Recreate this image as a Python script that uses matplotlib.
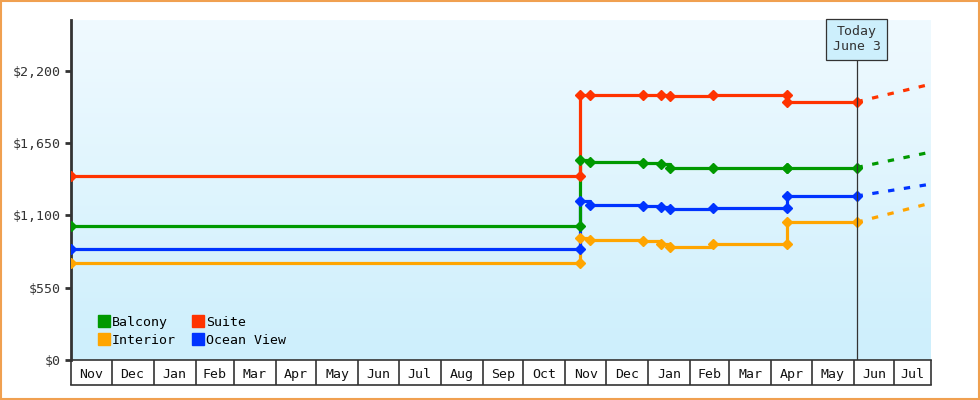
import numpy as np
import matplotlib.pyplot as plt
import matplotlib.dates as mdates
import pandas as pd

plt.rcParams['font.family'] = ['DejaVu Sans Mono']

# Price history (steps)
dates = pd.to_datetime(['2022-11-01', '2023-11-12', '2023-11-12', '2023-11-19', '2023-12-28',
                        '2024-01-11', '2024-01-17', '2024-02-18', '2024-04-13', '2024-04-13', '2024-06-03'])
suite = [1400, 1400, 2015, 2015, 2015, 2015, 2010, 2015, 2015, 1965, 1965]
balcony = [1020, 1020, 1522, 1507, 1500, 1492, 1461, 1465, 1465, 1465, 1465]
ocean = [845, 845, 1212, 1180, 1175, 1167, 1150, 1157, 1157, 1248, 1248]
interior = [738, 738, 928, 913, 906, 886, 862, 883, 883, 1048, 1048]

# Projection (dashed) from today to end of range
proj_dates = pd.to_datetime(['2024-06-03', '2024-07-28'])
proj = {'Suite': [1965, 2100], 'Balcony': [1465, 1583],
        'Ocean View': [1248, 1339], 'Interior': [1048, 1195]}

colors = {'Balcony': '#009900', 'Suite': '#ff3300', 'Interior': '#ffa500', 'Ocean View': '#0033ff'}
series = {'Interior': interior, 'Ocean View': ocean, 'Balcony': balcony, 'Suite': suite}

fig = plt.figure(figsize=(9.8, 4), dpi=100)
ax = fig.add_axes([71/980, 40/400, 860/980, 340/400])

x0 = mdates.date2num(pd.Timestamp('2022-11-01'))
x1 = mdates.date2num(pd.Timestamp('2024-07-28'))
ax.set_xlim(x0, x1)
ax.set_ylim(0, 2588)

# background gradient (darker at top)
grad = np.linspace(0, 1, 256).reshape(-1, 1)
ax.imshow(grad, extent=[x0, x1, 0, 2588], aspect='auto', origin='lower',
          cmap=plt.matplotlib.colors.LinearSegmentedColormap.from_list('bg', ['#cdeffc', '#f0faff']),
          zorder=0)

for name, vals in series.items():
    c = colors[name]
    ax.plot(dates, vals, drawstyle='steps-post', color=c, lw=2.3, zorder=3)
    ax.plot(dates, vals, 'D', color=c, ms=5, zorder=4)
    ax.plot(proj_dates, proj[name], '--', color=c, lw=2.3, dashes=(2, 3), zorder=3)

# Today marker
today = mdates.date2num(pd.Timestamp('2024-06-03'))
ax.plot([today, today], [0, 2290], color='#333333', lw=0.9, zorder=5)
ax.text(today, 2440, 'Today\nJune 3', ha='center', va='center', fontsize=9.5, color='#333333',
        bbox=dict(boxstyle='square,pad=0.5', fc='#cdeffc', ec='#333333', lw=0.9), zorder=6)

yt = [0, 550, 1100, 1650, 2200]
ax.set_yticks(yt)
ax.set_yticklabels(['$' + format(v, ',') for v in yt], fontsize=9.5, color='#333333')
ax.tick_params(axis='y', length=4, width=2, color='#333333')

# month grid below axis
months = pd.date_range('2022-11-01', '2024-07-01', freq='MS')
ax.set_xticks(list(months) + [pd.Timestamp('2024-07-28')])
ax.set_xticklabels([])
ax.tick_params(axis='x', length=18, width=1.2, color='#333333')
mids = [m + (m + pd.offsets.MonthBegin(1) - m) / 2 for m in months]
mids[-1] = pd.Timestamp('2024-07-14')
ax.set_xticks(mids, minor=True)
ax.set_xticklabels([m.strftime('%b') for m in months], minor=True, fontsize=9.5, color='#111111')
ax.tick_params(axis='x', which='minor', length=0, pad=6)

for s in ['top', 'right']:
    ax.spines[s].set_visible(False)
ax.spines['left'].set_linewidth(2)
ax.spines['bottom'].set_linewidth(1.2)
ax.spines['left'].set_color('#333333')
ax.spines['bottom'].set_color('#333333')
fig.add_artist(plt.Line2D([71/980, 931/980], [15/400, 15/400], color='#333333', lw=1.2))

# legend
handles = [plt.Line2D([], [], marker='s', ls='', color=colors[n], ms=8) for n in ['Balcony', 'Interior', 'Suite', 'Ocean View']]
ax.legend(handles, ['Balcony', 'Interior', 'Suite', 'Ocean View'], ncol=2, loc='lower left',
          frameon=False, fontsize=9.5, handletextpad=0.1, columnspacing=1.2,
          borderaxespad=0.6, handlelength=1, labelspacing=0.4, bbox_to_anchor=(0.015, 0.0))

fig.patches.append(plt.Rectangle((0.001, 0.002), 0.998, 0.996, transform=fig.transFigure,
                                 fill=False, ec='#f0a050', lw=1.5))
fig.savefig('out.png', dpi=100)
